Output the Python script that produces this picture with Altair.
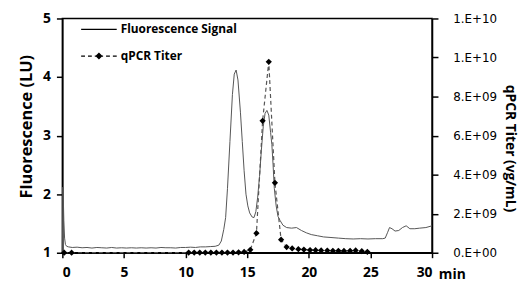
import altair as alt
import pandas as pd

# Fluorescence signal (time in min, LU)
FL_T = [0.0, 0.04, 0.08, 0.12, 0.18, 0.25, 0.35, 0.5, 0.8, 1.2, 1.6, 2.0, 2.4, 2.8, 3.2, 3.6,
        4.0, 4.4, 4.8, 5.2, 5.6, 6.0, 6.4, 6.8, 7.2, 7.6, 8.0, 8.4, 8.8, 9.2, 9.6, 10.0,
        10.4, 10.8, 11.2, 11.6, 12.0, 12.4, 12.7, 12.9, 13.1, 13.25, 13.4, 13.6, 13.8,
        13.95, 14.1, 14.25, 14.45, 14.6, 14.75, 14.9, 15.05, 15.2, 15.4, 15.55, 15.7,
        15.85, 16.0, 16.15, 16.3, 16.45, 16.6, 16.75, 16.9, 17.0, 17.1, 17.2, 17.35,
        17.5, 17.67, 17.9, 18.2, 18.6, 19.0, 19.4, 19.8, 20.2, 20.7, 21.2, 21.8, 22.4,
        23.0, 23.6, 24.2, 24.8, 25.4, 26.0, 26.2, 26.4, 26.55, 26.75, 27.0, 27.3, 27.6,
        27.9, 28.2, 28.6, 29.0, 29.5, 30.0]
FL_V = [1.0, 2.12, 1.9, 1.55, 1.25, 1.14, 1.11, 1.1, 1.09, 1.095, 1.085, 1.09, 1.08, 1.09,
        1.085, 1.08, 1.09, 1.08, 1.085, 1.08, 1.085, 1.08, 1.085, 1.08, 1.085, 1.08, 1.09,
        1.085, 1.085, 1.08, 1.09, 1.09, 1.095, 1.09, 1.1, 1.1, 1.105, 1.11, 1.13, 1.2, 1.4,
        1.6, 2.1, 2.9, 3.7, 4.05, 4.12, 3.95, 3.4, 2.9, 2.4, 2.0, 1.8, 1.68, 1.61, 1.6, 1.7,
        1.95, 2.3, 2.75, 3.15, 3.38, 3.43, 3.35, 3.05, 2.85, 2.5, 2.1, 1.8, 1.62, 1.55,
        1.47, 1.43, 1.42, 1.43, 1.38, 1.34, 1.31, 1.29, 1.27, 1.26, 1.25, 1.24, 1.235,
        1.24, 1.235, 1.24, 1.24, 1.25, 1.35, 1.43, 1.41, 1.37, 1.38, 1.43, 1.46, 1.41,
        1.41, 1.42, 1.43, 1.46]

# qPCR titer (time in min, vg/mL)
Q_T = [0.15, 0.75, 10.25, 10.7, 11.15, 11.6, 12.05, 12.5, 12.95, 13.4, 13.85, 14.3, 14.75,
       15.25, 15.75, 16.25, 16.75, 17.25, 17.75, 18.2, 18.65, 19.15, 19.6, 20.1, 20.55,
       21.0, 21.5, 21.95, 22.4, 22.85, 23.35, 23.8, 24.3, 24.75]
Q_V = [0, 0, 0.01e9, 0.01e9, 0.01e9, 0.01e9, 0.01e9, 0.01e9, 0.01e9, 0.01e9, 0.01e9,
       0.02e9, 0.04e9, 0.15e9, 1.0e9, 6.76e9, 9.78e9, 3.58e9, 0.67e9, 0.29e9, 0.22e9,
       0.18e9, 0.16e9, 0.14e9, 0.13e9, 0.12e9, 0.11e9, 0.1e9, 0.1e9, 0.09e9, 0.1e9,
       0.12e9, 0.08e9, 0.05e9]

SERIES = ["Fluorescence Signal", "qPCR Titer"]
X_TICKS = [0, 5, 10, 15, 20, 25, 30]
FL_TICKS = [1, 2, 3, 4, 5]
Q_TICKS = [0, 2e9, 4e9, 6e9, 8e9, 1e10, 1.2e10]
Q_LABELS = ["0.E+00", "2.E+09", "4.E+09", "6.E+09", "8.E+09", "1.E+10", "1.E+10"]

fl = pd.DataFrame({"t": FL_T, "v": FL_V, "series": SERIES[0]})
q = pd.DataFrame({"t": Q_T, "v": Q_V, "series": SERIES[1]})

FONT = "Open Sans"
GRAY = "#555555"

xenc = alt.X("t:Q", scale=alt.Scale(domain=[0, 30], nice=False),
             axis=alt.Axis(values=X_TICKS, title="min", titleX=394, titleY=22,
                           titleAngle=0, titleAlign="center", titleBaseline="middle",
                           titleFontSize=14, titleFontWeight="bold",
                           labelFontWeight="bold", labelFontSize=14, tickSize=5,
                           labelPadding=8, labelOverlap=False))

fl_line = alt.Chart(fl).mark_line(color=GRAY, strokeWidth=1).encode(
    x=xenc,
    y=alt.Y("v:Q", scale=alt.Scale(domain=[1, 5], nice=False),
            axis=alt.Axis(values=FL_TICKS, title="Fluorescence (LU)", orient="left",
                          titleFontSize=16.5, titleFontWeight="bold", titleY=109,
                          labelFontWeight="bold", labelFontSize=14, tickSize=6,
                          labelPadding=6, titlePadding=8, labelOverlap=False)),
)

q_label_expr = "[" + ",".join("'%s'" % s for s in Q_LABELS) + "][round(datum.value/2000000000)]"
q_axis = alt.Axis(values=Q_TICKS, title="qPCR Titer (vg/mL)", orient="right",
                  labelExpr=q_label_expr, labelFont="DejaVu Sans", titleFontSize=14,
                  titleY=131, titleFontWeight="bold", labelFontSize=12, tickSize=6,
                  labelPadding=15, titlePadding=6, labelOverlap=False)
q_scale = alt.Scale(domain=[0, 1.2e10], nice=False)

q_line = alt.Chart(q).mark_line(color=GRAY, strokeWidth=1.2, strokeDash=[4, 3]).encode(
    x="t:Q", y=alt.Y("v:Q", scale=q_scale, axis=q_axis))
q_pts = alt.Chart(q).mark_point(shape="diamond", filled=True, color="black", size=40,
                                opacity=1).encode(
    x="t:Q", y=alt.Y("v:Q", scale=q_scale, axis=q_axis))

# legend symbols drawn as filled shapes (thin bars for the lines)
SOLID = "M-3,-0.09L3,-0.09L3,0.09L-3,0.09Z"
def bar(a, b):
    return "M%s,-0.1L%s,-0.1L%s,0.1L%s,0.1Z" % (a, b, b, a)
DASHED = (bar(-3, -2.35) + bar(-1.85, -1.2) + bar(-0.7, 0.7) + bar(1.2, 1.85)
          + bar(2.35, 3) + "M0,-0.6L0.6,0L0,0.6L-0.6,0Z")
legend_layer = alt.Chart(q).mark_point(filled=True, color="black", opacity=0).encode(
    x="t:Q", y=alt.Y("v:Q", scale=q_scale, axis=q_axis),
    shape=alt.Shape("series:N",
                    scale=alt.Scale(domain=SERIES, range=[SOLID, DASHED]),
                    legend=alt.Legend(title=None, orient="none", legendX=31, legendY=5,
                                      symbolSize=144, symbolOpacity=1,
                                      symbolFillColor="#222222", symbolStrokeWidth=0,
                                      labelOffset=16, labelFontSize=12,
                                      labelFontWeight="bold", labelFont=FONT,
                                      rowPadding=15, labelColor="black")),
)

right = alt.layer(q_line, q_pts, legend_layer)

chart = alt.layer(fl_line, right).resolve_scale(y="independent").properties(
    width=374, height=237,
    autosize=alt.AutoSizeParams(type="none"),
    padding={"left": 55, "top": 9, "right": 90, "bottom": 28},
).configure_view(stroke="black", strokeWidth=1.5).configure_axis(
    grid=False, domainColor="black", domainWidth=1.5, tickColor="black",
    tickWidth=1.5, labelColor="black", titleColor="black", labelFont=FONT,
    titleFont=FONT,
)

chart.save("out.html", embed_options={"renderer": "svg", "actions": False})
